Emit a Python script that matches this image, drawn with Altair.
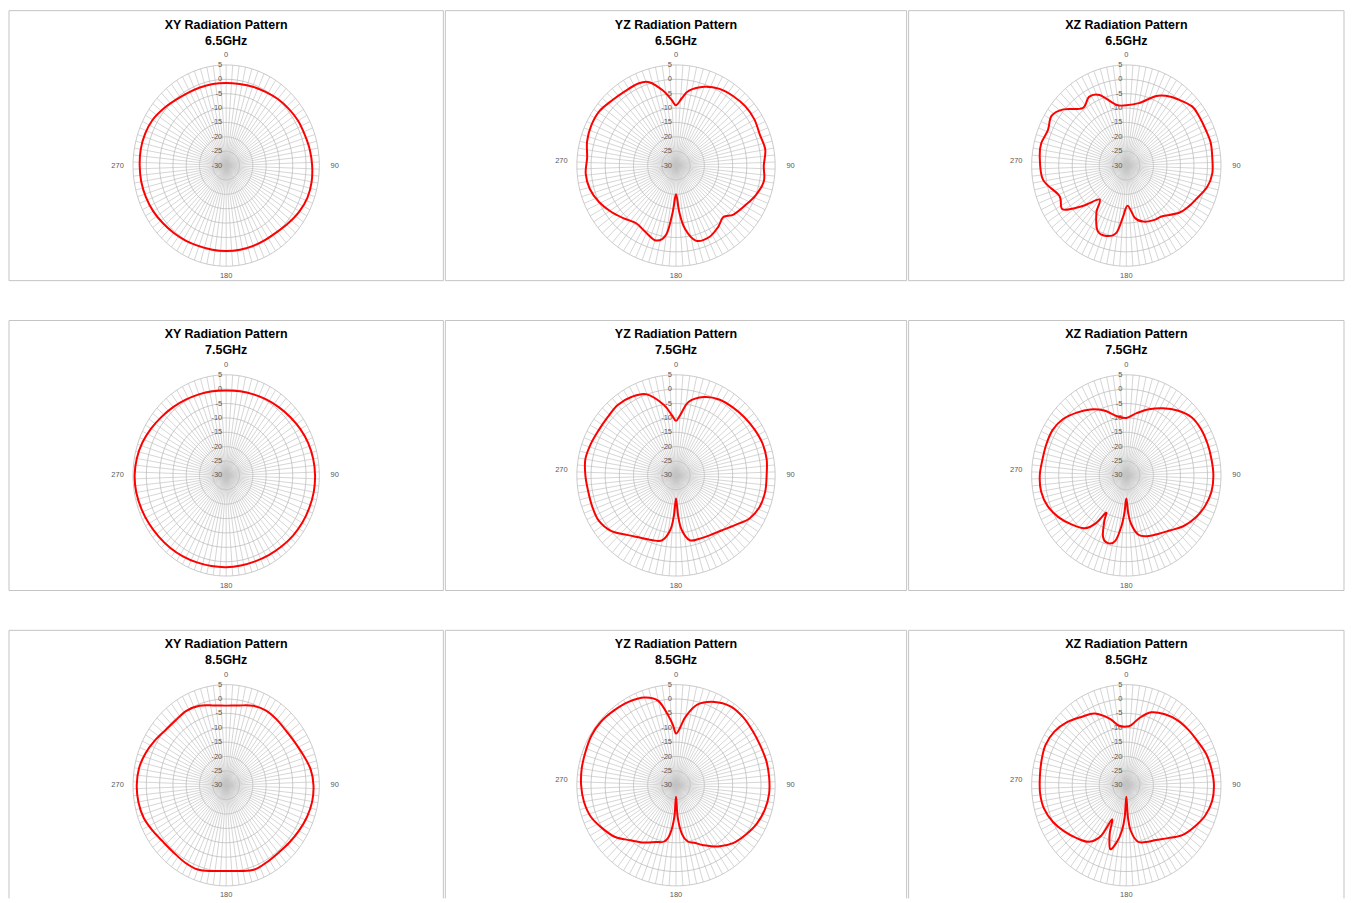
import numpy as np
import pandas as pd
import altair as alt

# ---------------- data ----------------
DB_MIN = -30
DB_MAX = 5
RING_VALUES = [5, 0, -5, -10, -15, -20, -25]
RING_LABELS = [5, 0, -5, -10, -15, -20, -25, -30]
SPOKE_ANGLES = list(range(0, 360, 4))
ANGLE_LABELS = [0, 90, 180, 270]
PLANES = ["XY", "YZ", "XZ"]
FREQS = ["6.5GHz", "7.5GHz", "8.5GHz"]

XY65_ANG = list(range(0, 360, 10))
XY65_DB = [-1.3, -1.2, -0.8, -0.4, 0.2, 0.7, 1.2, 1.4, 1.9, 2.3, 2.6, 2.5, 1.8, 0.8, 0.0, -0.3, -0.3, -0.3,
           -0.3, -0.3, -0.2, 0.2, 0.6, 1.1, 1.7, 2.1, 2.4, 2.5, 2.6, 2.4, 1.9, 0.8, -0.3, -0.9, -1.1, -1.2]

YZ65_ANG = [0, 5, 10, 20, 30, 40, 50, 60, 70, 80, 90, 100, 110, 120, 130, 137, 145, 155, 165, 172, 176, 180,
            184, 188, 195, 205, 215, 225, 235, 245, 255, 265, 275, 285, 295, 305, 315, 325, 335, 342, 350, 356]
YZ65_DB = [-9, -6.5, -3.5, -0.8, 0.8, 1.5, 2.0, 2.0, 1.5, 2.0, 1.0, 1.5, 0.0, -2, -3.5, -5.5, -4, -2.5, -3, -8, -14, -20,
           -14, -6, -3, -4.5, -5.5, -4, -2.0, 0.0, 1.5, 2.0, 1.5, 2.5, 3.0, 3.0, 2.0, 1.5, 1.5, 0.5, -3.5, -7]

XZ65_ANG = [0, 12, 24, 31, 40, 50, 58, 67, 76, 86, 95, 104, 115, 121, 130, 143, 152, 162, 170, 178, 184, 189,
            197, 205, 214, 220, 229, 237, 247, 261, 276, 284, 293, 302, 310, 321, 330, 338, 350]
XZ65_DB = [-9, -7.8, -3.6, -1.7, 0, 1.9, 1.9, 1.9, 2.2, 1.9, 1.9, 0.8, -1.8, -2.8, -4.5, -7.9, -8.5, -9.5, -11.5,
           -16, -12, -6.3, -4.4, -4.9, -10.2, -14.6, -8.6, -2, -3.1, 1.2, 2.2, 2.4, 1.5, 2.6, 0.4, -4.3, -2.4, -3.5, -8.5]

XY75_ANG = list(range(0, 360, 10))
XY75_DB = [-0.5, -0.3, 0, 0.4, 0.9, 1.5, 2.2, 2.8, 3.2, 3.4, 3.4, 3.2, 3.0, 2.7, 2.3, 2.0, 1.8, 1.8,
           1.9, 2.0, 2.2, 2.5, 2.8, 3.1, 3.5, 3.9, 4.3, 4.4, 4.1, 3.5, 2.6, 1.7, 1.0, 0.4, 0.0, -0.3]

YZ75_ANG = [0, 4, 10, 20, 30, 40, 50, 60, 70, 80, 90, 100, 110, 120, 128, 140, 150, 160, 168, 174, 177, 180,
            183, 186, 192, 200, 210, 220, 230, 240, 250, 260, 270, 280, 290, 300, 310, 320, 330, 340, 350, 356]
YZ75_DB = [-11, -9, -4, -1, 0.5, 1, 1.5, 2, 2.5, 2.5, 2, 2, 1.5, 0, -2.5, -5, -6, -6.5, -7, -11, -16, -22,
           -16, -11, -7, -6, -5, -3, 0, 1.5, 1.5, 1.5, 2, 2.5, 2, 1.5, 1.5, 2, 1.5, 0, -5, -9]

XZ75_ANG = [0, 10, 20, 30, 40, 50, 60, 70, 80, 90, 100, 110, 120, 130, 140, 150, 160, 168, 174, 177, 180, 183,
            186, 190, 196, 202, 207, 210, 214, 220, 230, 240, 250, 260, 270, 280, 290, 300, 310, 320, 330, 340, 350]
XZ75_DB = [-10, -8, -5.5, -3, -0.5, 1.5, 2, 2, 2, 2.2, 2, 1, -0.5, -2.5, -5, -6.5, -7.5, -9, -13, -17, -22, -17,
           -12, -7, -5.5, -7, -12, -15, -10, -6, -3.5, -1, 1, 2, 2, 1.5, 1.5, 1.5, 0.5, -1.5, -3.5, -6, -9]

XY85_ANG = list(range(0, 360, 10))
XY85_DB = [-2.3, -1.8, -0.6, 0, -0.3, -0.6, -0.2, 0.8, 2.2, 2.8, 2.8, 2.3, 1.6, 1.0, 0.6, 0.8, 1.2, 0.3,
           -0.2, 0.3, 1.2, 1.0, 0.6, 0.8, 1.8, 3.0, 3.5, 3.6, 3.3, 2.3, 1.0, -0.2, -0.5, -0.1, -0.6, -1.8]

YZ85_ANG = [0, 4, 8, 15, 25, 35, 45, 55, 65, 75, 85, 95, 105, 115, 125, 135, 145, 155, 162, 168, 173, 177,
            180, 183, 187, 192, 200, 210, 220, 230, 240, 250, 260, 270, 280, 290, 300, 310, 320, 330, 340, 348, 354, 357]
YZ85_DB = [-12, -10, -6, -1, 2, 3.5, 3.5, 3, 2.8, 3, 3, 3, 2.5, 1.5, 0, -1.5, -4, -7, -9, -10, -13, -19,
           -26, -19, -13, -10, -9, -7, -5, -2, 0, 2, 3, 3.5, 3.8, 4, 4.5, 4.5, 4.0, 3.5, 2.5, 0, -6, -9]

XZ85_ANG = [0, 5, 12, 20, 30, 40, 50, 60, 70, 80, 90, 100, 110, 120, 130, 140, 150, 160, 168, 174, 177, 180,
            183, 186, 190, 195, 200, 204, 208, 215, 225, 235, 245, 255, 265, 275, 285, 295, 305, 315, 325, 335, 345, 352]
XZ85_DB = [-9.6, -9, -6, -3, -1.5, -0.5, 0, 0.5, 1.5, 2, 2.4, 2.2, 1, -1, -3, -6, -8, -9, -10, -14, -19, -26,
           -19, -14, -10, -7, -12, -17, -10, -6, -4, -2, 0, 1.5, 2, 2.1, 2.5, 3, 2.5, 1.0, -1, -2.5, -6, -9]

SERIES = {
    ("6.5GHz", "XY"): (XY65_ANG, XY65_DB),
    ("6.5GHz", "YZ"): (YZ65_ANG, YZ65_DB),
    ("6.5GHz", "XZ"): (XZ65_ANG, XZ65_DB),
    ("7.5GHz", "XY"): (XY75_ANG, XY75_DB),
    ("7.5GHz", "YZ"): (YZ75_ANG, YZ75_DB),
    ("7.5GHz", "XZ"): (XZ75_ANG, XZ75_DB),
    ("8.5GHz", "XY"): (XY85_ANG, XY85_DB),
    ("8.5GHz", "YZ"): (YZ85_ANG, YZ85_DB),
    ("8.5GHz", "XZ"): (XZ85_ANG, XZ85_DB),
}

# ---------------- layout / style ----------------
COL_W = [436, 463, 437]
ROW_H = [271, 271, 269]
ROW_GAP = 38
RADIUS_X = [93.5, 99.5, 95.0]   # px, horizontal radius of the 5 dB ring
RADIUS_Y = 101.0                # px, vertical radius of the 5 dB ring
CENTER_Y = 155.5                # px from panel top
LABEL_GAP_V = 9.5
LABEL_GAP_H = 15.5
LEFT_LABEL_RAISE = [0, 5, 5]    # px the "270" label sits above centre, per column
TITLE_FONT = "Liberation Sans, Arial, sans-serif"
SMALL_FONT = "Liberation Sans, Arial, sans-serif"
BORDER = "#c4c4c4"
RING_COLOR = "#bdbdbd"
SPOKE_COLOR = "#c4c4c4"
LABEL_COLOR = "#595959"
LINE_COLOR = "#ff0000"


def panel(r, c):
    W, H = COL_W[c], ROW_H[r]
    span = DB_MAX - DB_MIN
    ux = span / RADIUS_X[c]
    uy = span / RADIUS_Y
    xs = alt.Scale(domain=[-W / 2 * ux, W / 2 * ux], nice=False, zero=False)
    ys = alt.Scale(domain=[-(H - CENTER_Y) * uy, CENTER_Y * uy], nice=False, zero=False)

    def X(f):
        return alt.X(f"{f}:Q", scale=xs, axis=None)

    def Y(f):
        return alt.Y(f"{f}:Q", scale=ys, axis=None)

    one = pd.DataFrame({"a": [0]})
    borders = [
        alt.Chart(one).mark_rule(color=BORDER, strokeWidth=1).encode(
            x=alt.value(0), x2=alt.value(W), y=alt.value(0)),
        alt.Chart(one).mark_rule(color=BORDER, strokeWidth=1).encode(
            x=alt.value(0), y=alt.value(0), y2=alt.value(H)),
        alt.Chart(one).mark_rule(color=BORDER, strokeWidth=1).encode(
            x=alt.value(W), y=alt.value(0), y2=alt.value(H)),
    ]
    if r < 2:
        borders.append(alt.Chart(one).mark_rule(color=BORDER, strokeWidth=1).encode(
            x=alt.value(0), x2=alt.value(W), y=alt.value(H)))

    sp = pd.DataFrame({"a": SPOKE_ANGLES})
    rad = np.radians(sp["a"])
    sp["x0"] = 0.0
    sp["y0"] = 0.0
    sp["x1"] = span * np.sin(rad)
    sp["y1"] = span * np.cos(rad)
    spokes = alt.Chart(sp).mark_rule(color=SPOKE_COLOR, strokeWidth=0.7).encode(
        x=X("x0"), y=Y("y0"), x2=alt.X2("x1"), y2=alt.Y2("y1"))

    rows = []
    for v in RING_VALUES:
        for k in range(0, 361, 2):
            t = np.radians(k)
            rr = v - DB_MIN
            rows.append({"ring": v, "k": k, "x": rr * np.sin(t), "y": rr * np.cos(t)})
    rings = alt.Chart(pd.DataFrame(rows)).mark_line(color=RING_COLOR, strokeWidth=0.8).encode(
        x=X("x"), y=Y("y"), detail="ring:N", order="k:Q")

    rl = pd.DataFrame({"v": RING_LABELS})
    rl["x"] = 0.0
    rl["y"] = rl["v"] - DB_MIN
    rl["t"] = rl["v"].astype(str)
    ring_labels = alt.Chart(rl).mark_text(
        align="right", baseline="middle", dx=-4, fontSize=7.5, color=LABEL_COLOR, font=SMALL_FONT
    ).encode(x=X("x"), y=Y("y"), text="t:N")

    al = pd.DataFrame({"a": ANGLE_LABELS})
    ar = np.radians(al["a"])
    al["x"] = np.sin(ar) * (span + LABEL_GAP_H * ux)
    al["y"] = np.cos(ar) * (span + LABEL_GAP_V * uy)
    al.loc[al["a"] == 270, "y"] = LEFT_LABEL_RAISE[c] * uy
    al["t"] = al["a"].astype(str)
    angle_labels = alt.Chart(al).mark_text(
        align="center", baseline="middle", fontSize=7.5, color=LABEL_COLOR, font=SMALL_FONT
    ).encode(x=X("x"), y=Y("y"), text="t:N")

    freq, plane = FREQS[r], PLANES[c]
    ang, db = SERIES[(freq, plane)]
    sd = pd.DataFrame({"ang": ang, "db": db})
    srad = np.radians(sd["ang"])
    sd["x"] = (sd["db"] - DB_MIN) * np.sin(srad)
    sd["y"] = (sd["db"] - DB_MIN) * np.cos(srad)
    series = alt.Chart(sd).mark_line(
        interpolate="cardinal-closed", color=LINE_COLOR, strokeWidth=2
    ).encode(x=X("x"), y=Y("y"), order="ang:Q")

    td = pd.DataFrame({"t1": [f"{plane} Radiation Pattern"], "t2": [freq]})
    title1 = alt.Chart(td).mark_text(
        align="center", baseline="middle", fontSize=12.5, fontWeight="bold", font=TITLE_FONT, color="#000000"
    ).encode(x=alt.value(W / 2), y=alt.value(14), text="t1:N")
    title2 = alt.Chart(td).mark_text(
        align="center", baseline="middle", fontSize=12.5, fontWeight="bold", font=TITLE_FONT, color="#000000"
    ).encode(x=alt.value(W / 2), y=alt.value(30), text="t2:N")

    return alt.layer(
        *borders, spokes, rings, ring_labels, angle_labels, series, title1, title2
    ).properties(width=W, height=H)


row_charts = []
for r in range(3):
    row_charts.append(
        alt.hconcat(*[panel(r, c) for c in range(3)], spacing=0).resolve_scale(x="independent", y="independent")
    )

chart = alt.vconcat(*row_charts, spacing=ROW_GAP).resolve_scale(
    x="independent", y="independent"
).properties(padding=0, background="#ffffff").configure_view(strokeWidth=0)

chart.save("out.html", embed_options={"renderer": "svg", "actions": False})
